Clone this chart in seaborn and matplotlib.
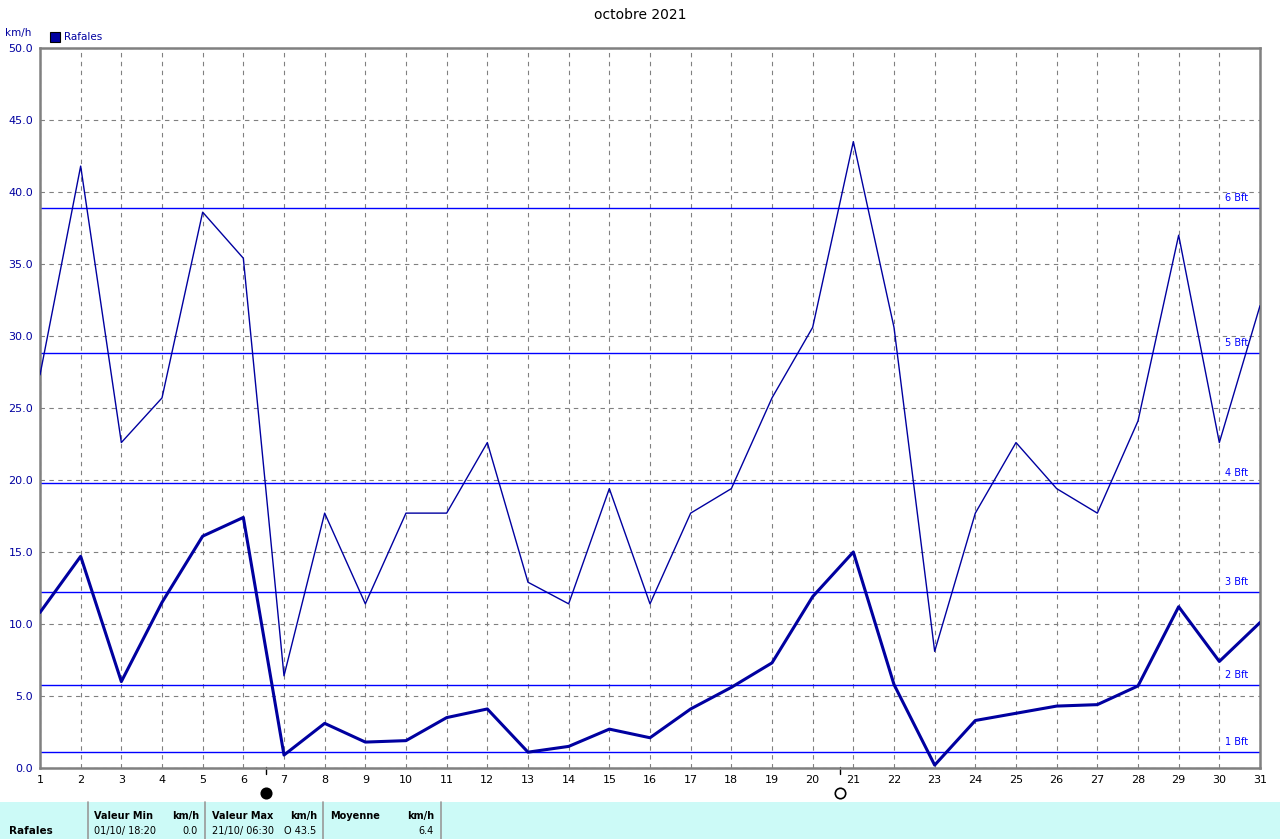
import numpy as np
import pandas as pd
import seaborn as sns
import matplotlib.pyplot as plt
import matplotlib.transforms as mtransforms
from matplotlib.patches import Rectangle

# data
days = list(range(1, 32))
rafales_max = [27.3, 41.8, 22.6, 25.7, 38.6, 35.4, 6.4, 17.7, 11.4, 17.7,
               17.7, 22.6, 12.9, 11.4, 19.4, 11.4, 17.7, 19.4, 25.7, 30.6,
               43.5, 30.6, 8.1, 17.7, 22.6, 19.4, 17.7, 24.1, 37.0, 22.6, 32.1]
rafales_moy = [10.8, 14.7, 6.0, 11.5, 16.1, 17.4, 0.9, 3.1, 1.8, 1.9,
               3.5, 4.1, 1.1, 1.5, 2.7, 2.1, 4.1, 5.6, 7.3, 11.9,
               15.0, 5.8, 0.2, 3.3, 3.8, 4.3, 4.4, 5.7, 11.2, 7.4, 10.1]
bft_levels = [1.1, 5.76, 12.24, 19.8, 28.8, 38.88]
bft_labels = ["1 Bft", "2 Bft", "3 Bft", "4 Bft", "5 Bft", "6 Bft"]
moon_days = [6.56, 20.67]
moon_fill = ["black", "white"]

df = pd.DataFrame({"jour": days, "max": rafales_max, "moy": rafales_moy})

sns.set_style("white")
plt.rcParams['font.family'] = ['DejaVu Sans']
plt.rcParams['text.color'] = 'black'

fig = plt.figure(figsize=(12.8, 8.39), dpi=100)
ax = fig.add_axes([40 / 1280, 71 / 839, 1220 / 1280, 720 / 839])

dark = "#0000a0"
blue = "#0000ff"

# beaufort levels
for lvl, lab in zip(bft_levels, bft_labels):
    ax.axhline(lvl, color=blue, lw=1.0, zorder=2)
    ax.text(30.7, lvl + 0.35, lab, color=blue, fontsize=7, ha="right", va="bottom")

sns.lineplot(data=df, x="jour", y="max", color=dark, lw=1.0, ax=ax, zorder=3)
sns.lineplot(data=df, x="jour", y="moy", color=dark, lw=2.2, ax=ax, zorder=4)

ax.set_xlim(1, 31)
ax.set_ylim(0, 50)
ax.set_xticks(days)
ax.set_xticklabels([str(d) for d in days], fontsize=8, color="black")
ax.set_yticks(np.arange(0, 50.1, 5))
ax.set_yticklabels([f"{v:.1f}" for v in np.arange(0, 50.1, 5)], fontsize=8, color=dark)
ax.tick_params(axis="both", length=3, width=1, color="#808080", pad=2)
ax.grid(True, color="#808080", linestyle=(0, (4, 4)), lw=0.8, zorder=1)
ax.set_xlabel("")
ax.set_ylabel("")
for sp in ax.spines.values():
    sp.set_color("#808080")
    sp.set_linewidth(1.8)

# moon phases
trans = mtransforms.blended_transform_factory(ax.transData, ax.transAxes)
for d, fc in zip(moon_days, moon_fill):
    ax.plot([d, d], [0.002, -0.008], color="black", lw=1, transform=trans, clip_on=False)
    ax.plot(d, -0.035, marker="o", ms=7.5, mfc=fc, mec="black", mew=1.2,
            transform=trans, clip_on=False)

fig.text(0.5, 1 - 15 / 839, "octobre 2021", ha="center", va="center", fontsize=10, color="black")
fig.text(18 / 1280, 1 - 33 / 839, "km/h", ha="center", va="center", fontsize=7.5, color=dark)
fig.patches.append(Rectangle((50 / 1280, 1 - 42 / 839), 10 / 1280, 10 / 839,
                             transform=fig.transFigure, fc=dark, ec="black", lw=0.8))
fig.text(64 / 1280, 1 - 37 / 839, "Rafales", ha="left", va="center", fontsize=7.5, color=dark)

# stats table at the bottom
fig.patches.append(Rectangle((0, 0), 1, 37 / 839, transform=fig.transFigure,
                             fc="#ccfaf7", ec="none", zorder=0))
for x in [88, 205, 323, 441]:
    fig.add_artist(plt.Line2D([x / 1280, x / 1280], [0, 37 / 839], color="#999999", lw=1.2))
yh = 1 - 816 / 839
yv = 1 - 831 / 839
fs = 7
fig.text(9 / 1280, yv, "Rafales", fontsize=7.5, fontweight="bold", va="center")
fig.text(94 / 1280, yh, "Valeur Min", fontsize=fs, fontweight="bold", va="center")
fig.text(199 / 1280, yh, "km/h", fontsize=fs, fontweight="bold", va="center", ha="right")
fig.text(94 / 1280, yv, "01/10/ 18:20", fontsize=fs, va="center")
fig.text(198 / 1280, yv, "0.0", fontsize=fs, va="center", ha="right")
fig.text(212 / 1280, yh, "Valeur Max", fontsize=fs, fontweight="bold", va="center")
fig.text(317 / 1280, yh, "km/h", fontsize=fs, fontweight="bold", va="center", ha="right")
fig.text(212 / 1280, yv, "21/10/ 06:30", fontsize=fs, va="center")
fig.text(316 / 1280, yv, "O 43.5", fontsize=fs, va="center", ha="right")
fig.text(330 / 1280, yh, "Moyenne", fontsize=fs, fontweight="bold", va="center")
fig.text(434 / 1280, yh, "km/h", fontsize=fs, fontweight="bold", va="center", ha="right")
fig.text(434 / 1280, yv, "6.4", fontsize=fs, va="center", ha="right")

fig.savefig("out.png", dpi=100)
